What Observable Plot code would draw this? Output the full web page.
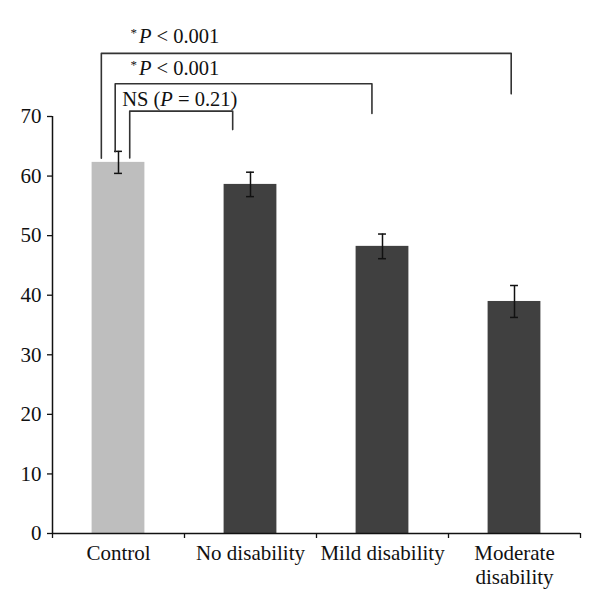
<!DOCTYPE html>
<html><head><meta charset="utf-8">
<script src="https://cdn.jsdelivr.net/npm/d3@7"></script>
<script src="https://cdn.jsdelivr.net/npm/@observablehq/plot@0.6"></script>
<style>body{margin:0;background:#fff}</style>
</head><body><div id="chart"></div>
<script>
// data
const categories = ["Control", "No disability", "Mild disability", "Moderate disability"];
const categoryLabels = ["Control", "No disability", "Mild disability", "Moderate\ndisability"];
const means = [62.3, 58.6, 48.2, 38.95];
const errors = [1.85, 2.05, 2.07, 2.68];
const groupType = ["control", "patient", "patient", "patient"];
const yTicks = [0, 10, 20, 30, 40, 50, 60, 70];

// significance brackets (x in category units, y in value units)
const bracketText = ["*P < 0.001", "*P < 0.001", "NS (P = 0.21)"];
const bracketFrom = [0.37, 0.475, 0.585];
const bracketTo = [3.475, 2.42, 1.365];
const bracketTop = [80.6, 75.5, 70.9];
const bracketFromEnd = [63.0, 64.1, 63.05];
const bracketToEnd = [73.8, 70.5, 67.8];
const bracketTextX = [0.59, 0.59, 0.528];
const bracketTextY = [82.4, 77.0, 71.8];

const data = categories.map((c, i) => ({c, i, mean: means[i], err: errors[i], type: groupType[i]}));

const bracketPts = [];
bracketText.forEach((t, j) => {
  bracketPts.push({j, x: bracketFrom[j], y: bracketFromEnd[j]});
  bracketPts.push({j, x: bracketFrom[j], y: bracketTop[j]});
  bracketPts.push({j, x: bracketTo[j], y: bracketTop[j]});
  bracketPts.push({j, x: bracketTo[j], y: bracketToEnd[j]});
});
const bracketLabels = bracketText.map((t, j) => ({t, x: bracketTextX[j], y: bracketTextY[j]}));

const chart = Plot.plot({
  width: 600,
  height: 612,
  marginLeft: 52,
  marginRight: 20,
  marginTop: 116,
  marginBottom: 79,
  x: {domain: [0, categories.length]},
  y: {domain: [0, 70]},
  color: {domain: ["control", "patient"], range: ["#bebebe", "#404040"]},
  style: {fontFamily: "Liberation Serif, serif", fontSize: "21px", color: "#111", background: "#fff"},
  marks: [
    Plot.rectY(data, {x1: d => d.i + 0.3, x2: d => d.i + 0.7, y1: 0, y2: "mean", fill: "type"}),
    Plot.ruleX(data, {x: d => d.i + 0.5, y1: d => d.mean - d.err, y2: d => d.mean + d.err, stroke: "#111", strokeWidth: 1.5}),
    Plot.ruleY(data, {x1: d => d.i + 0.47, x2: d => d.i + 0.53, y: d => d.mean + d.err, stroke: "#111", strokeWidth: 1.5}),
    Plot.ruleY(data, {x1: d => d.i + 0.47, x2: d => d.i + 0.53, y: d => d.mean - d.err, stroke: "#111", strokeWidth: 1.5}),
    Plot.line(bracketPts, {x: "x", y: "y", z: "j", stroke: "#333", strokeWidth: 1.6}),
    Plot.text(bracketLabels, {x: "x", y: "y", text: "t", textAnchor: "start", lineAnchor: "bottom", fontSize: 20.5, fill: "#111"}),
    Plot.axisY({ticks: yTicks, tickSize: 5, tickPadding: 6, label: null, fontSize: 21, stroke: "#111", strokeWidth: 1.3}),
    Plot.axisX({ticks: d3.range(categories.length + 1), tickFormat: () => "", tickSize: 5, label: null, stroke: "#111", strokeWidth: 1.3}),
    Plot.axisX({ticks: categories.map((c, i) => i + 0.5), tickFormat: d => categoryLabels[Math.floor(d)], tickSize: 0, tickPadding: 9, lineHeight: 1.15, label: null, fontSize: 21}),
    Plot.ruleX([0], {y1: 0, y2: 70, stroke: "#111", strokeWidth: 1.5}),
    Plot.ruleY([0], {x1: 0, x2: categories.length, stroke: "#111", strokeWidth: 1.5})
  ]
});
document.getElementById("chart").appendChild(chart);

// rich formatting: superscript asterisk and italic P
d3.select(chart).selectAll("text")
  .filter(function() { return bracketText.includes(this.textContent); })
  .each(function() {
    const el = d3.select(this);
    let s = el.text();
    el.text(null);
    let shifted = false;
    if (s.startsWith("*")) {
      el.append("tspan").attr("font-size", 13).attr("dy", -6).text("*");
      s = s.slice(1);
      shifted = true;
    }
    const k = s.indexOf("P");
    const pre = s.slice(0, k), post = s.slice(k + 1);
    if (pre) {
      el.append("tspan").attr("dy", shifted ? 6 : null).text(pre);
      shifted = false;
    }
    el.append("tspan").attr("font-style", "italic").attr("dy", shifted ? 6 : null).attr("dx", pre ? null : 2).text("P");
    el.append("tspan").text(post);
  });
</script>
</body></html>
